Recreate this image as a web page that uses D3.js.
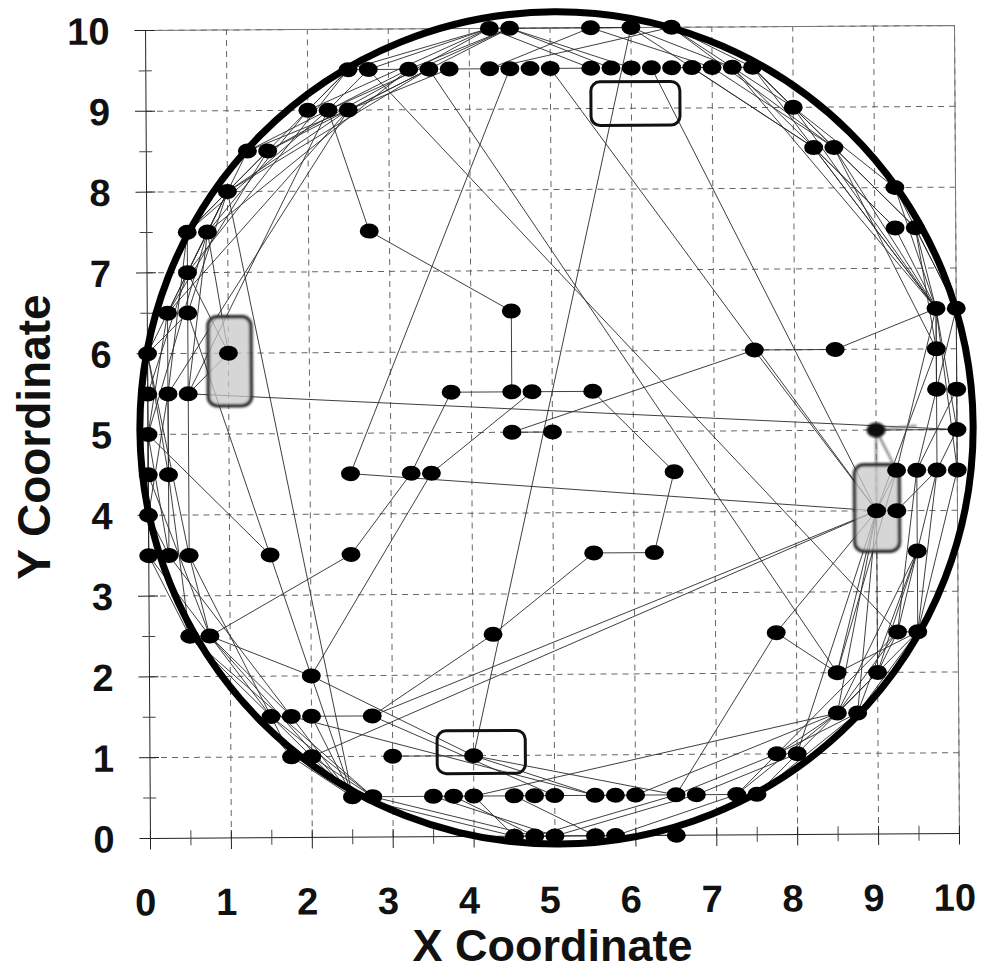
<!DOCTYPE html>
<html>
<head>
<meta charset="utf-8">
<script src="https://cdn.jsdelivr.net/npm/d3@7"></script>
<style>
  body { margin: 0; background: #fff; }
  text { font-family: "Liberation Sans", Arial, sans-serif; font-weight: bold; fill: #111; }
</style>
</head>
<body>
<svg id="chart" width="981" height="972"></svg>
<script>
// node rows: y value and the x values of the nodes on it
const rowY = [10, 9.5, 9, 8.5, 8, 7.5, 7, 6.5, 6, 5.5, 5, 4.5, 4, 3.5, 2.5, 2, 1.5, 1, 0.5, 0];
const rowX = [
    [4.25, 4.5, 5.5, 6, 6.5],
    [2.5, 2.75, 3.25, 3.5, 3.75, 4.25, 4.5, 4.75, 5, 5.5, 5.75, 6, 6.25, 6.5, 6.75, 7, 7.25, 7.5],
    [2, 2.25, 2.5, 8],
    [1.25, 1.5, 8.25, 8.5],
    [1, 9.25],
    [0.5, 0.75, 2.75, 9.25, 9.5],
    [0.5],
    [0.25, 0.5, 4.5, 9.75, 10],
    [0, 1, 7.5, 8.5, 9.75],
    [0, 0.25, 0.5, 3.75, 4.5, 4.75, 5.5, 9.75, 10],
    [0, 4.5, 5, 9, 10],
    [0, 0.25, 2.5, 3.25, 3.5, 6.5, 9.25, 9.5, 9.75, 10],
    [0, 9, 9.25],
    [0, 0.25, 0.5, 1.5, 2.5, 5.5, 6.25, 9.5],
    [0.5, 0.75, 4.25, 7.75, 9.25, 9.5],
    [2, 8.5, 9],
    [1.5, 1.75, 2, 2.75, 8.5, 8.75],
    [1.75, 2, 3, 4, 7.75, 8],
    [2.5, 2.75, 3.5, 3.75, 4, 4.5, 4.75, 5, 5.5, 5.75, 6, 6.5, 6.75, 7.25, 7.5],
    [4.5, 4.75, 5, 5.5, 5.75, 6.5]
];
// the node drawn faded
const fadedNode = [9, 5];

// links: x1, y1, x2, y2
const edges = [
    // interior
    [2.25, 9, 2.75, 7.5], [2.75, 7.5, 4.5, 6.5], [4.5, 6.5, 4.5, 5.5], [3.75, 5.5, 4.5, 5.5],
    [4.75, 5.5, 5.5, 5.5], [3.75, 5.5, 3.25, 4.5], [3.25, 4.5, 2.5, 3.5], [2.5, 3.5, 0.75, 2.5],
    [4.75, 5.5, 3.5, 4.5], [3.5, 4.5, 2, 2], [2.5, 4.5, 9, 4], [2.5, 4.5, 4.5, 9.5],
    [4.5, 5, 5, 5], [4.5, 5, 7.5, 6], [7.5, 6, 8.5, 6], [8.5, 6, 9.75, 6.5], [7.5, 6, 9, 4],
    [5.5, 5.5, 6.5, 4.5], [6.5, 4.5, 6.25, 3.5], [5.5, 3.5, 6.25, 3.5], [5.5, 3.5, 4.25, 2.5],
    [4.25, 2.5, 2.75, 1.5], [2.75, 1.5, 2, 1.5], [0.5, 5.5, 10, 5], [0, 5, 1.5, 3.5],
    [1.5, 3.5, 2.5, 0.5], [4, 1, 6, 10], [3, 1, 4, 1], [2, 1, 9, 4], [0.75, 2.5, 2, 2],
    [2, 2, 4, 1], [1, 8, 2.5, 0.5], [5, 9.5, 9, 4], [6.25, 9.5, 9, 4], [3.5, 9.5, 8.5, 2],
    [2.75, 9.5, 9.25, 2.5], [4, 1, 5.5, 0.5], [4, 1, 6.5, 0.5], [9, 4, 2.75, 1.5],
    [1.75, 1.5, 5.5, 0.5], [2.75, 1.5, 5, 0.5], [0.5, 5.5, 2.25, 9],
    // upper left arc
    [4.25, 10, 2.5, 9.5], [4.25, 10, 2.75, 9.5], [4.5, 10, 3.25, 9.5], [4.25, 10, 2, 9],
    [4.5, 10, 2.25, 9], [4.25, 10, 1.5, 8.5], [4.5, 10, 2.5, 9], [4.25, 10, 4.5, 10],
    [2.5, 9.5, 2.75, 9.5], [2.75, 9.5, 3.25, 9.5], [3.75, 9.5, 4.25, 9.5], [2.5, 9.5, 2, 9],
    [2.5, 9.5, 1, 8], [2.5, 9.5, 0.5, 7], [2.75, 9.5, 2.25, 9], [3.25, 9.5, 1.25, 8.5],
    [3.5, 9.5, 1.5, 8.5], [3.5, 9.5, 1, 8], [3.75, 9.5, 1.25, 8.5], [3.25, 9.5, 0.75, 7.5],
    [2, 9, 0.75, 7.5], [2.25, 9, 0.5, 7.5], [2.5, 9, 1, 8], [2.5, 9, 0.25, 6.5],
    [2.5, 9, 0.25, 5.5], [1.25, 8.5, 0.5, 7], [1.5, 8.5, 0.5, 7.5], [1.5, 8.5, 0.25, 6.5],
    [1, 8, 0.5, 7.5], [1, 8, 0.5, 6.5], [1, 8, 0.25, 6.5], [1, 8, 0, 6],
    // left arc
    [0.75, 7.5, 0.5, 5.5], [0.5, 7.5, 0.5, 7], [0.5, 7.5, 0.25, 5.5], [0.5, 7, 0.5, 6.5],
    [0.5, 7, 0, 5.5], [0.75, 7.5, 0, 5], [0.5, 7, 1, 6], [0.75, 7.5, 1, 6], [0.5, 6.5, 0, 6],
    [0.25, 6.5, 0, 5], [0.5, 6.5, 0.5, 5.5], [0.25, 6.5, 0.25, 4.5], [0.5, 6.5, 1.5, 3.5],
    [0, 6, 0, 5.5], [0, 6, 0.25, 4.5], [0, 6, 0.5, 3.5], [0.25, 5.5, 0, 4], [0, 5.5, 0, 4.5],
    [0.5, 5.5, 0.5, 3.5], [0.25, 5.5, 0.25, 3.5], [0.5, 5.5, 1, 6], [0, 5, 0, 4],
    [0, 5, 0.25, 3.5], [0, 4.5, 0, 3.5], [0.25, 4.5, 0.5, 2.5], [0, 4.5, 0.75, 2.5],
    [0, 4, 0.5, 2.5], [0, 4, 0.25, 3.5], [0, 3.5, 0.5, 2.5], [0, 3.5, 1.5, 1.5],
    [0.25, 3.5, 1.75, 1.5], [0.5, 3.5, 1.75, 1], [0.5, 3.5, 0.75, 2.5],
    // lower left arc
    [0.5, 2.5, 1.5, 1.5], [0.75, 2.5, 1.75, 1.5], [0.5, 2.5, 1.75, 1], [0.75, 2.5, 2.5, 0.5],
    [0.5, 2.5, 2.75, 0.5], [0.5, 2.5, 0.75, 2.5], [1.5, 1.5, 2.5, 0.5], [1.5, 1.5, 2.75, 0.5],
    [1.75, 1.5, 2.5, 0.5], [1.75, 1, 2.5, 0.5], [2, 1, 2.75, 0.5], [2, 1.5, 2.5, 0.5],
    [1.75, 1, 2, 1], [1.5, 1.5, 1.75, 1.5], [2.75, 0.5, 3.5, 0.5], [2.5, 0.5, 4.5, 0],
    [2.75, 0.5, 4.75, 0],
    // bottom
    [3.5, 0.5, 4, 0.5], [4, 0.5, 4.5, 0.5], [4, 0.5, 4.5, 0], [3.75, 0.5, 4.75, 0],
    [3.5, 0.5, 5, 0], [4.5, 0.5, 5, 0.5], [5, 0.5, 5.5, 0.5], [4.5, 0, 5, 0], [5, 0, 5.5, 0],
    [5.75, 0, 6.5, 0], [4.75, 0, 6.5, 0.5], [5, 0, 6.75, 0.5], [5.75, 0, 7.25, 0.5],
    [4.5, 0.5, 5.5, 0], [6, 0.5, 6.5, 0.5], [6.75, 0.5, 7.25, 0.5], [5.5, 0.5, 6, 0.5],
    // lower right arc
    [6.5, 0.5, 7.75, 1], [6.75, 0.5, 8, 1], [6, 0.5, 8.5, 1.5], [4, 0.5, 8.5, 1.5],
    [7.25, 0.5, 8.5, 1.5], [7.5, 0.5, 8.75, 1.5], [7.25, 0.5, 7.75, 1], [7.5, 0.5, 8, 1],
    [7.75, 1, 8.5, 1.5], [7.75, 1, 8.75, 1.5], [8, 1, 9, 2], [7.75, 1, 9.25, 2.5],
    [8.5, 1.5, 9, 2], [8.5, 1.5, 9.25, 2.5], [8.5, 1.5, 9.5, 2.5], [8.75, 1.5, 9.5, 2.5],
    [8.75, 1.5, 9.5, 3.5], [8.5, 1.5, 9.5, 3.5], [8.5, 1.5, 9, 4], [8.5, 2, 9.5, 2.5],
    [8.5, 2, 9, 4], [8.5, 2, 9.25, 4.5], [9, 2, 9.5, 3.5], [9, 2, 9, 4], [9, 2, 9.25, 2.5],
    [7.75, 2.5, 8.5, 2], [7.75, 2.5, 6.5, 0.5], [9.25, 2.5, 9.5, 2.5], [9.25, 2.5, 9.5, 4.5],
    [9.5, 2.5, 9.75, 4.5], [9.5, 2.5, 10, 4.5], [9.5, 3.5, 9.5, 4.5], [9.5, 3.5, 9.25, 2.5],
    [9.5, 3.5, 9.5, 2.5], [9.5, 3.5, 9.75, 4.5], [9, 4, 9.25, 4], [9, 4, 8.75, 1.5],
    [9, 4, 9.25, 4.5], [9, 4, 7.75, 2.5], [9, 4, 8, 1],
    // right arc
    [9.25, 4.5, 9.75, 6.5], [9.5, 4.5, 9.75, 5.5], [9.75, 4.5, 9.75, 6], [10, 4.5, 10, 5.5],
    [9.75, 4.5, 10, 5], [9.5, 4.5, 10, 5.5], [10, 4.5, 9.75, 6.5], [9.75, 5.5, 9.75, 6.5],
    [9.75, 6, 9.75, 6.5], [10, 5, 9.75, 6.5], [10, 5.5, 10, 6.5], [9.75, 5.5, 10, 6.5],
    [9.25, 4, 9.75, 4.5], [9, 5, 10, 5], [9.75, 6, 9, 4],
    // upper right arc
    [9.75, 6.5, 9.25, 7.5], [9.75, 6.5, 9.5, 7.5], [9.75, 6.5, 9.25, 8], [9.75, 6.5, 8.5, 8.5],
    [9.75, 6.5, 8.25, 8.5], [9.75, 6.5, 8, 9], [9.75, 6.5, 7.5, 9.5], [9.75, 6.5, 7.25, 9.5],
    [10, 6.5, 9.5, 7.5], [10, 6.5, 9.25, 8], [9.75, 6, 9.5, 7.5], [9.75, 6, 8.5, 8.5],
    [9.25, 7.5, 8.25, 8.5], [9.5, 7.5, 8.5, 8.5], [9.25, 8, 8, 9], [8.5, 8.5, 7, 9.5],
    [8.25, 8.5, 6.75, 9.5], [8.5, 8.5, 7.5, 9.5], [8.25, 8.5, 6, 10], [8.5, 8.5, 6.5, 10],
    [8, 9, 6.5, 10], [8, 9, 7.5, 9.5], [9.25, 7.5, 7.25, 9.5], [9.5, 7.5, 7.5, 9.5],
    [7.25, 9.5, 7.5, 9.5],
    // top
    [5.5, 10, 6, 10], [6.5, 10, 7.5, 9.5], [6, 10, 7.25, 9.5], [5.5, 10, 7, 9.5],
    [6.5, 10, 4.25, 9.5], [6, 10, 4.5, 10], [5.5, 10, 4.25, 9.5], [4.5, 10, 6, 9.5],
    [4.25, 10, 5.5, 9.5], [4.5, 10, 5.75, 9.5], [5, 9.5, 5.5, 9.5], [6.5, 9.5, 7, 9.5]
];
// links drawn faded, from the faded node
const fadedEdges = [[9, 5, 9.25, 4.5], [9, 5, 9, 4], [9, 5, 9.5, 5.05]];

// highlight boxes: x0, x1, y0, y1
const shadedBoxes = [[0.75, 1.28, 5.35, 6.45], [8.73, 9.28, 3.5, 4.57]];
const openBoxes = [[5.5, 6.6, 8.79, 9.33], [3.55, 4.64, 0.78, 1.31]];

// boundary circle: centre and radius in data units
const ring = {cx: 5.05, cy: 5.05, r: 5.15};

const xTicks = d3.range(0, 11);
const yTicks = d3.range(0, 11);
const minorTicks = d3.range(0.5, 10, 1);

const svg = d3.select('#chart');
const x = d3.scaleLinear().domain([0, 10]).range([148, 957]);
const y = d3.scaleLinear().domain([0, 10]).range([836, 28]);

const defs = svg.append('defs');
defs.append('filter').attr('id', 'soft')
    .append('feGaussianBlur').attr('stdDeviation', 1.3);

// the scan is turned a little
const g = svg.append('g')
    .attr('transform', 'rotate(-0.35 ' + x(5) + ' ' + y(5) + ')');

// dashed grid
g.append('g').selectAll('line').data(xTicks.slice(1))
    .join('line')
    .attr('x1', d => x(d)).attr('x2', d => x(d))
    .attr('y1', y(0)).attr('y2', y(10))
    .attr('stroke', '#666').attr('stroke-width', 1)
    .attr('stroke-dasharray', '6,5');
g.append('g').selectAll('line').data(yTicks.slice(1))
    .join('line')
    .attr('x1', x(0)).attr('x2', x(10))
    .attr('y1', d => y(d)).attr('y2', d => y(d))
    .attr('stroke', '#666').attr('stroke-width', 1)
    .attr('stroke-dasharray', '6,5');

// frame on top and right
g.append('path')
    .attr('d', 'M' + x(0) + ',' + y(10) + 'H' + x(10) + 'V' + y(0))
    .attr('fill', 'none').attr('stroke', '#777').attr('stroke-width', 1);

// axes: tick marks cross the axis line
const xAxis = g.append('g').attr('transform', 'translate(0,' + y(0) + ')');
xAxis.append('line').attr('x1', x(0)).attr('x2', x(10)).attr('stroke', '#222');
xAxis.selectAll('.maj').data(xTicks).join('line').attr('class', 'maj')
    .attr('x1', d => x(d)).attr('x2', d => x(d)).attr('y1', -8).attr('y2', 11)
    .attr('stroke', '#222');
xAxis.selectAll('.min').data(minorTicks).join('line').attr('class', 'min')
    .attr('x1', d => x(d)).attr('x2', d => x(d)).attr('y1', -8).attr('y2', 7)
    .attr('stroke', '#444');
xAxis.selectAll('text').data(xTicks).join('text')
    .attr('x', d => x(d) - 5).attr('y', 77)
    .attr('text-anchor', 'middle').attr('font-size', 38)
    .text(d => d);

const yAxis = g.append('g').attr('transform', 'translate(' + x(0) + ',0)');
yAxis.append('line').attr('y1', y(0)).attr('y2', y(10)).attr('stroke', '#222');
yAxis.selectAll('.maj').data(yTicks).join('line').attr('class', 'maj')
    .attr('y1', d => y(d)).attr('y2', d => y(d)).attr('x1', -11).attr('x2', 9)
    .attr('stroke', '#222');
yAxis.selectAll('.min').data(minorTicks).join('line').attr('class', 'min')
    .attr('y1', d => y(d)).attr('y2', d => y(d)).attr('x1', -7).attr('x2', 6)
    .attr('stroke', '#444');
yAxis.selectAll('text').data(yTicks).join('text')
    .attr('x', -36).attr('y', d => y(d)).attr('dy', '0.36em')
    .attr('text-anchor', 'end').attr('font-size', 38)
    .text(d => d);

// links
g.append('g').selectAll('line').data(edges)
    .join('line')
    .attr('x1', d => x(d[0])).attr('y1', d => y(d[1]))
    .attr('x2', d => x(d[2])).attr('y2', d => y(d[3]))
    .attr('stroke', '#2a2a2a').attr('stroke-width', 0.9);
g.append('g').attr('filter', 'url(#soft)').selectAll('line').data(fadedEdges)
    .join('line')
    .attr('x1', d => x(d[0])).attr('y1', d => y(d[1]))
    .attr('x2', d => x(d[2])).attr('y2', d => y(d[3]))
    .attr('stroke', '#777').attr('stroke-width', 2);

// highlight boxes
g.append('g').attr('filter', 'url(#soft)').selectAll('rect').data(shadedBoxes)
    .join('rect')
    .attr('x', d => x(d[0])).attr('y', d => y(d[3]))
    .attr('width', d => x(d[1]) - x(d[0])).attr('height', d => y(d[2]) - y(d[3]))
    .attr('rx', 9)
    .attr('fill', '#c8c8c8').attr('fill-opacity', 0.75)
    .attr('stroke', '#222').attr('stroke-width', 3.5);
g.append('g').selectAll('rect').data(openBoxes)
    .join('rect')
    .attr('x', d => x(d[0])).attr('y', d => y(d[3]))
    .attr('width', d => x(d[1]) - x(d[0])).attr('height', d => y(d[2]) - y(d[3]))
    .attr('rx', 9)
    .attr('fill', 'none')
    .attr('stroke', '#111').attr('stroke-width', 3);

// boundary circle
g.append('ellipse')
    .attr('cx', x(ring.cx)).attr('cy', y(ring.cy))
    .attr('rx', x(ring.r) - x(0)).attr('ry', y(0) - y(ring.r))
    .attr('fill', 'none').attr('stroke', '#000').attr('stroke-width', 7);

// nodes
const nodes = rowY.flatMap((yy, i) => rowX[i].map(xx => ({x: xx, y: yy})));
g.append('g').selectAll('ellipse')
    .data(nodes.filter(d => !(d.x === fadedNode[0] && d.y === fadedNode[1])))
    .join('ellipse')
    .attr('cx', d => x(d.x)).attr('cy', d => y(d.y))
    .attr('rx', 9.5).attr('ry', 7.5)
    .attr('fill', '#000');
g.append('ellipse')
    .attr('cx', x(fadedNode[0])).attr('cy', y(fadedNode[1]))
    .attr('rx', 9.5).attr('ry', 7.5)
    .attr('fill', '#111').attr('filter', 'url(#soft)');

// axis titles
svg.append('text')
    .attr('x', x(5)).attr('y', 961)
    .attr('text-anchor', 'middle').attr('font-size', 45)
    .text('X Coordinate');
svg.append('text')
    .attr('transform', 'translate(50,' + 437 + ') rotate(-90)')
    .attr('text-anchor', 'middle').attr('font-size', 46)
    .text('Y Coordinate');
</script>
</body>
</html>
